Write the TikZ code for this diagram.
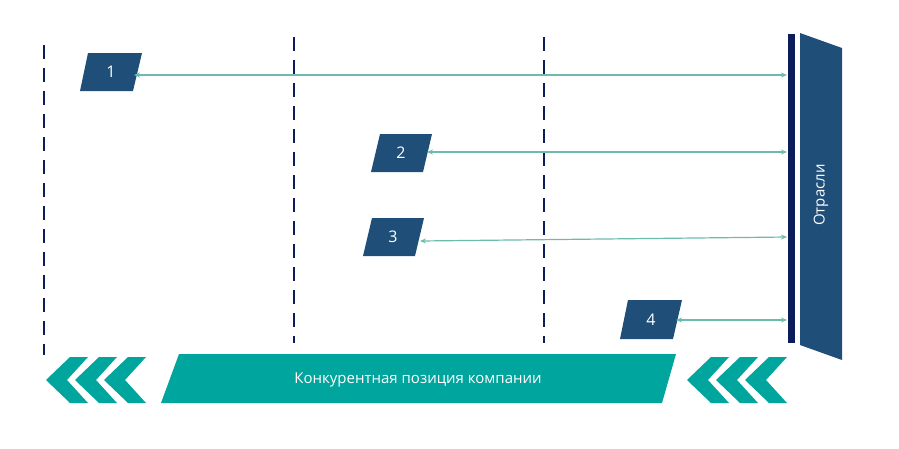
\documentclass[tikz,border=0pt]{standalone}
\usepackage{fontspec}
\setmainfont{Open Sans}
\usetikzlibrary{arrows.meta}
\definecolor{navy}{HTML}{1F4E79}
\definecolor{dnavy}{HTML}{0B1D5A}
\definecolor{teal1}{HTML}{00A59D}
\definecolor{arr}{HTML}{6DBBAE}
\tikzset{
 vline/.style={dnavy,line width=2.4pt,dash pattern=on 14pt off 9pt},
 para/.style={fill=navy},
 num/.style={text=white,font=\fontsize{16}{16}\selectfont},
 link/.style={arr,line width=1.2pt,{Stealth[length=6pt,width=5pt]}-{Stealth[length=6pt,width=5pt]}},
 chev/.style={fill=teal1}
}
\begin{document}
\begin{tikzpicture}[x=1pt,y=-1pt]
\useasboundingbox (0,0) rectangle (899,448);
% dashed lines
\draw[vline] (44,45) -- (44,355);
\draw[vline] (294,37) -- (294,343);
\draw[vline] (544,37) -- (544,343);
% right bar
\fill[dnavy] (788,34) rectangle (795,343);
\fill[navy] (800,33) -- (842,48) -- (842,360) -- (800,345) -- cycle;
\node[rotate=90,text=white,font=\fontsize{15}{15}\selectfont] (otr) at (821,195) {Отрасли};
\coordinate (t1) at (787,75);
\coordinate (t2) at (787,152);
\coordinate (t3) at (787,237);
\coordinate (t4) at (787,320);
% parallelograms
\fill[para] (88,53) -- (142,53) -- (133,91) -- (80,91) -- cycle;
\node[num] (n1) at (111,72) {1};
\fill[para] (380,134) -- (432,134) -- (423,172) -- (371,172) -- cycle;
\node[num] (n2) at (401,153) {2};
\fill[para] (372,218) -- (424,218) -- (415,256) -- (363,256) -- cycle;
\node[num] (n3) at (393,237) {3};
\fill[para] (628,300) -- (682,300) -- (673,339) -- (620,339) -- cycle;
\node[num] (n4) at (651,320) {4};
% arrows
\draw[link] (134,75) -- (t1);
\draw[link] (427,152) -- (t2);
\draw[link] (420,241) -- (t3);
\draw[link] (676,320) -- (t4);
% banner
\fill[teal1] (179,354) -- (676,354) -- (662,403) -- (161,403) -- cycle;
\node[text=white,font=\fontsize{15}{15}\selectfont] (ban) at (418,380) {Конкурентная позиция компании};
% chevrons
\foreach \dx in {0,29,58,641,670,699}{
 \fill[chev,shift={(\dx,0)}] (46,380) -- (70,357) -- (88,357) -- (67,380) -- (88,403) -- (70,403) -- cycle;
}
\end{tikzpicture}
\end{document}
